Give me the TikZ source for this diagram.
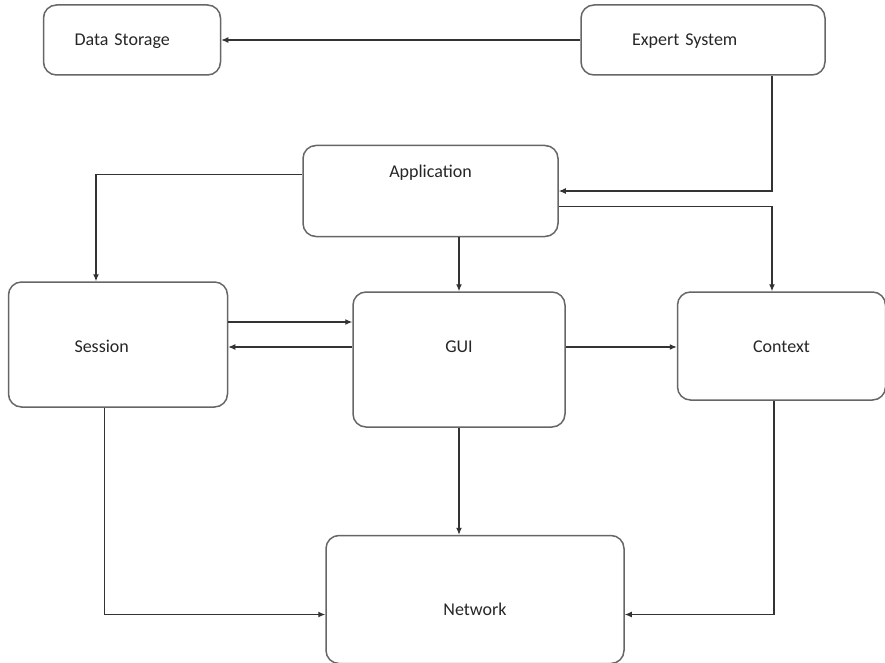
\documentclass[tikz,border=0pt]{standalone}
\usepackage{fontspec}
\setmainfont{Carlito}[WordSpace=0.5]
\usetikzlibrary{arrows.meta,positioning}

\begin{document}
\begin{tikzpicture}[->,>={Latex[length=7pt,width=6pt]},line width=1.2pt,
                    draw=black!80,x=1pt,y=1pt]
  \tikzstyle{every node}=[font=\fontsize{18}{21}\selectfont,text=black!85]
  \tikzstyle{box}=[draw=black!60,line width=1.5pt,rounded corners=13pt,
                   inner sep=0pt,text height=12pt,text depth=0pt]
  \tikzstyle{vh}=[to path={|- (\tikztotarget)}]
  \tikzstyle{hv}=[to path={-| (\tikztotarget)}]
  \useasboundingbox (0,0) rectangle (885,-663);
  \node[box,minimum width=212pt,minimum height=135pt,text depth=25.4pt]
    (GUI) at (459,-359.5) {GUI};
  \node[box,minimum width=255pt,minimum height=91pt,text depth=39.4pt]
    (AP) [above=54pt of GUI,xshift=-28.5pt] {Application};
  \node[box,minimum width=244pt,minimum height=70pt,text width=142pt,align=left]
    (ES) [above=69pt of AP,xshift=272.5pt] {Expert System};
  \node[box,minimum width=177pt,minimum height=70pt,text width=115pt,align=left]
    (DS) [left=359pt of ES] {Data Storage};
  \node[box,minimum width=219pt,minimum height=125pt,text height=16.6pt,
        text width=87pt,align=left]
    (SE) [left=124pt of GUI,yshift=15pt] {Session};
  \node[box,minimum width=208pt,minimum height=108pt,text height=13.6pt]
    (CT) [right=111pt of GUI,yshift=13.5pt] {Context};
  \node[box,minimum width=298pt,minimum height=128pt,text height=32.6pt]
    (NW) [below=107pt of GUI,xshift=16pt] {Network};

\path (ES.west) edge (DS.east)
      ([xshift=69pt]ES.south) edge [vh] (AP.east)
      ([yshift=16.5pt]AP.west) edge [hv] ([xshift=-22pt]SE.north)
      (AP.south -| GUI.north) edge (GUI.north)
      ([yshift=-15.5pt]AP.east) edge [hv] ([xshift=-9.5pt]CT.north)
      ([yshift=22.5pt]SE.east) edge ([yshift=37.5pt]GUI.west)
      ([yshift=12.5pt]GUI.west) edge ([yshift=-2.5pt]SE.east)
      ([yshift=12.5pt]GUI.east) edge ([yshift=-1pt]CT.west)
      (GUI.south) edge (GUI.south |- NW.north)
      ([xshift=-13.5pt]SE.south) edge [vh] ([yshift=-15pt]NW.west)
      ([xshift=-7.5pt]CT.south) edge [vh] ([yshift=-15pt]NW.east);

\end{tikzpicture}
\end{document}
